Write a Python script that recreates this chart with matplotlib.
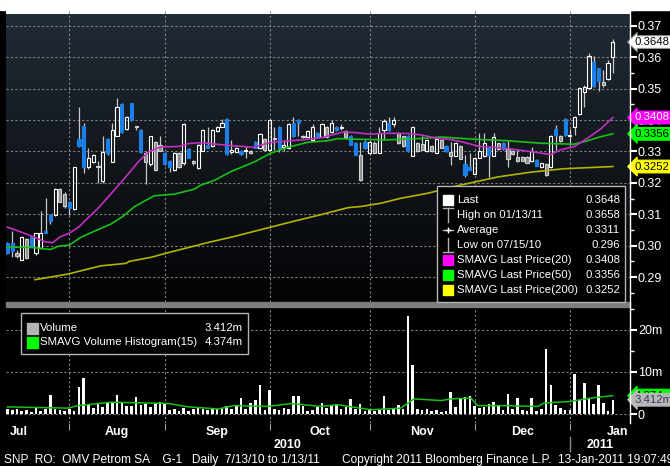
import matplotlib
matplotlib.use("Agg")
import matplotlib.pyplot as plt
import matplotlib.transforms as mtransforms
from matplotlib.patches import Rectangle
from matplotlib.ticker import FormatStrFormatter
import numpy as np

FONT = ['Liberation Sans', 'DejaVu Sans']
plt.rcParams['font.family'] = FONT
FS = 8.6
FS_LEG = 8.2

# daily candles, 7/13/10 .. 1/13/11 (one entry per trading day)
opens = [.3010, .3010, .2966, .2956, .2960, .3027, .2976, .2994, .3048, .3098,
         .3098, .3140, .3128, .3140, .3118, .3340, .3381, .3250, .3265, .3250,
         .3205, .3340, .3268, .3350, .3452, .3370, .3453, .3378, .3369, .3265,
         .3260, .3240, .3302, .3296, .3270, .3240, .3250, .3262, .3308, .3262,
         .3246, .3302, .3322, .3318, .3364, .3379, .3402, .3298, .3297, .3301,
         .3300, .3294, .3330, .3311, .3306, .3306, .3340, .3379, .3315, .3311,
         .3390, .3400, .3346, .3347, .3336, .3359, .3347, .3346, .3362, .3379,
         .3376, .3346, .3349, .3328, .3210, .3331, .3295, .3296, .3296, .3367,
         .3390, .3386, .3328, .3316, .3349, .3287, .3300, .3306, .3300, .3300,
         .3296, .3312, .3318, .3286, .3287, .3277, .3259, .3249, .3229, .3280,
         .3285, .3311, .3287, .3308, .3328, .3275, .3291, .3270, .3271, .3263,
         .3270, .3273, .3250, .3226, .3250, .3372, .3332, .3403, .3350, .3377,
         .3419, .3489, .3502, .3583, .3565, .3510, .3530, .3601]
highs = [.3012, .3046, .2985, .3030, .3025, .3030, .3042, .3111, .3151, .3100,
         .3185, .3185, .3170, .3142, .3252, .3442, .3390, .3312, .3292, .3270,
         .3348, .3342, .3390, .3470, .3455, .3412, .3455, .3382, .3370, .3300,
         .3350, .3332, .3348, .3298, .3272, .3298, .3297, .3390, .3310, .3272,
         .3325, .3370, .3379, .3370, .3381, .3402, .3405, .3337, .3315, .3303,
         .3316, .3303, .3332, .3360, .3342, .3402, .3377, .3381, .3336, .3390,
         .3408, .3402, .3352, .3369, .3388, .3361, .3390, .3381, .3400, .3381,
         .3388, .3367, .3351, .3330, .3330, .3336, .3333, .3333, .3377, .3403,
         .3408, .3410, .3362, .3350, .3351, .3380, .3330, .3349, .3340, .3320,
         .3344, .3338, .3320, .3330, .3330, .3320, .3290, .3295, .3282, .3359,
         .3359, .3313, .3359, .3328, .3330, .3335, .3303, .3304, .3285, .3285,
         .3314, .3275, .3264, .3264, .3352, .3383, .3353, .3405, .3370, .3413,
         .3506, .3512, .3613, .3603, .3567, .3560, .3592, .3658]
lows = [.2975, .2963, .2960, .2955, .2957, .2995, .2972, .2990, .3040, .3068,
        .3095, .3138, .3120, .3098, .3115, .3315, .3233, .3245, .3262, .3199,
        .3200, .3290, .3265, .3348, .3360, .3368, .3398, .3368, .3295, .3197,
        .3255, .3238, .3300, .3258, .3234, .3238, .3248, .3258, .3278, .3258,
        .3244, .3300, .3310, .3315, .3362, .3377, .3290, .3291, .3295, .3290,
        .3280, .3292, .3310, .3309, .3300, .3300, .3306, .3297, .3301, .3309,
        .3347, .3349, .3344, .3345, .3334, .3345, .3345, .3344, .3360, .3365,
        .3367, .3344, .3319, .3288, .3205, .3309, .3293, .3294, .3294, .3336,
        .3365, .3377, .3325, .3314, .3298, .3285, .3298, .3304, .3298, .3298,
        .3294, .3310, .3298, .3256, .3285, .3275, .3218, .3240, .3227, .3278,
        .3283, .3218, .3285, .3306, .3306, .3249, .3289, .3268, .3269, .3262,
        .3268, .3253, .3248, .3221, .3248, .3304, .3330, .3349, .3320, .3351,
        .3417, .3440, .3500, .3505, .3492, .3505, .3528, .3550]
closes = [.2978, .2984, .2978, .3027, .3020, .2999, .3039, .3041, .3041, .3078,
          .3182, .3180, .3165, .3119, .3249, .3317, .3250, .3280, .3290, .3252,
          .3298, .3296, .3368, .3442, .3362, .3408, .3401, .3380, .3297, .3296,
          .3348, .3330, .3320, .3260, .3250, .3296, .3295, .3388, .3280, .3270,
          .3322, .3367, .3312, .3367, .3378, .3389, .3292, .3305, .3311, .3292,
          .3302, .3301, .3311, .3357, .3338, .3400, .3343, .3311, .3320, .3388,
          .3349, .3390, .3348, .3366, .3378, .3347, .3387, .3378, .3390, .3367,
          .3378, .3365, .3321, .3290, .3288, .3311, .3330, .3328, .3358, .3397,
          .3367, .3400, .3358, .3348, .3300, .3378, .3327, .3325, .3337, .3317,
          .3340, .3335, .3300, .3298, .3327, .3316, .3224, .3242, .3280, .3300,
          .3327, .3290, .3346, .3326, .3308, .3307, .3300, .3283, .3282, .3281,
          .3300, .3255, .3262, .3261, .3350, .3351, .3350, .3351, .3352, .3411,
          .3503, .3504, .3605, .3507, .3523, .3522, .3582, .3648]
volumes = [1.3, 1.0, 1.2, 0.6, 1.0, 0.5, 1.4, 0.8, 1.1, 4.6,
           1.2, 1.0, 0.8, 1.3, 0.6, 6.4, 8.6, 2.2, 1.5, 2.4,
           1.6, 2.6, 2.8, 4.6, 2.8, 1.8, 2.0, 4.0, 2.2, 2.4,
           1.6, 2.6, 2.9, 2.4, 0.9, 1.3, 0.6, 1.5, 0.7, 1.2,
           1.4, 1.1, 1.0, 1.2, 1.3, 1.4, 1.8, 1.2, 2.2, 3.8,
           1.2, 2.6, 3.4, 7.0, 1.0, 5.6, 1.2, 1.0, 1.4, 1.3,
           4.4, 4.4, 1.8, 0.8, 1.0, 1.6, 2.6, 1.5, 1.8, 2.5,
           1.2, 1.6, 3.6, 1.2, 2.5, 0.8, 1.0, 0.6, 1.2, 4.2,
           1.0, 1.3, 2.2, 1.2, 23.4, 11.7, 1.2, 0.9, 1.1, 0.7,
           0.9, 0.5, 0.8, 5.2, 1.6, 3.6, 4.0, 4.2, 2.0, 1.5,
           1.6, 2.4, 2.9, 1.8, 1.0, 4.8, 1.3, 3.8, 1.0, 0.8,
           3.8, 0.8, 1.1, 15.5, 7.0, 2.2, 1.4, 0.9, 1.0, 9.6,
           3.4, 7.4, 3.7, 2.5, 6.9, 2.6, 0.8, 3.4]

# moving averages (candle index, value)
ma20_idx = [0, 3, 6, 8, 9.5, 11, 13, 15, 17, 19, 22, 25, 27.5, 29.5, 32, 36, 38, 40.5,
            43, 47.5, 51.5, 55, 59, 62, 66, 70.5, 73, 76, 80, 84, 87, 90, 93, 96, 99,
            102, 105, 110, 114, 116, 119, 121.5, 124.5, 127]
ma20 = [.3059, .3043, .3025, .3012, .3010, .3028, .3040, .3060, .3090, .3119, .3170,
        .3222, .3268, .3297, .3314, .3316, .3325, .3328, .3324, .3318, .3313, .3328,
        .3334, .3337, .3344, .3362, .3360, .3355, .3358, .3357, .3352, .3342, .3338,
        .3328, .3316, .3313, .3309, .3299, .3290, .3305, .3316, .3340, .3372, .3408]
ma50_idx = [0, 5.6, 9, 10.8, 13, 15.4, 18.2, 21.7, 24.2, 26.6, 30.8, 35, 39.2, 40.6,
            43.4, 46.9, 51.7, 55.3, 58.8, 63, 67.2, 69.3, 72.7, 79.8, 86.7, 91, 97.8,
            105, 111.9, 118.8, 121.7, 124.5, 127]
ma50 = [.2996, .2994, .2988, .2999, .3002, .3027, .3046, .3069, .3093, .3124, .3159,
        .3164, .3180, .3193, .3208, .3236, .3266, .3295, .3313, .3329, .3334, .3341,
        .3339, .3337, .3341, .3346, .3339, .3334, .3326, .3323, .3334, .3347, .3356]
ma200_idx = [5.8, 12.7, 19.6, 24.9, 25.5, 30.1, 33.7, 37.9, 42, 46.9, 60.1, 65.8,
             71.4, 74.2, 78.3, 82.5, 88.2, 93, 102.9, 109.8, 116.7, 127]
ma200 = [.2892, .2910, .2936, .2944, .2950, .2963, .2978, .2994, .3010, .3027, .3078,
         .3099, .3121, .3125, .3135, .3151, .3167, .3186, .3219, .3234, .3245, .3252]
vma_idx = [0, 12.7, 14.8, 21.7, 33.7, 37.9, 44.2, 47.5, 54.6, 59.5, 65.8, 69.3, 76.3,
           82.5, 85.3, 91, 93, 97.2, 98.7, 104.1, 111.3, 112.5, 118.2, 122.4, 127]
vma = [1.7, 1.4, 2.0, 2.8, 2.5, 1.7, 1.2, 2.0, 1.8, 2.5, 1.8, 2.2, 1.0, 1.4, 3.6, 3.2,
       3.6, 3.8, 2.0, 2.0, 1.8, 2.6, 3.0, 3.8, 4.374]

month_first = [13, 33, 55, 76, 98, 118]
month_names = ['Jul', 'Aug', 'Sep', 'Oct', 'Nov', 'Dec', 'Jan']
year_names = ['2010', '2011']

legend_rows = [('Last', '0.3648'), ('High on 01/13/11', '0.3658'), ('Average', '0.3311'),
               ('Low on 07/15/10', '0.296'), ('SMAVG Last Price(20)', '0.3408'),
               ('SMAVG Last Price(50)', '0.3356'), ('SMAVG Last Price(200)', '0.3252')]
vol_rows = [('Volume', '3.412m'), ('SMAVG Volume Histogram(15)', '4.374m')]

W, H = 670, 466
XMIN, XMAX = -0.3, 130.5
fig = plt.figure(figsize=(W / 100, H / 100), dpi=100, facecolor='black')


def frac(x0, y0, x1, y1):
    return [x0 / W, 1 - y1 / H, (x1 - x0) / W, (y1 - y0) / H]


ax = fig.add_axes(frac(6, 10, 629.5, 302))
axv = fig.add_axes(frac(6, 306, 629.5, 423), sharex=ax)
axv.set_facecolor('black')

# gradient background of the price panel
t = np.linspace(0, 1, 256)[:, None, None]
top_c = np.array([0.13, 0.17, 0.21])
bot_c = np.array([0.01, 0.01, 0.015])
grad = top_c * (1 - t) + bot_c * t
ax.imshow(grad, extent=(XMIN, XMAX, 0.2821, 0.3736), aspect='auto', zorder=0, origin='upper')

x = np.arange(len(closes))
o = np.array(opens)
c = np.array(closes)
hi = np.array(highs)
lo = np.array(lows)
prev = np.r_[c[0], c[:-1]]
down = c < o
gray = (~down) & (c < prev)
body_lo = np.minimum(o, c)
body_hi = np.maximum(o, c)
ax.vlines(x, lo, body_lo, color='#c8c8c8', lw=0.9, zorder=2)
ax.vlines(x, body_hi, hi, color='#c8c8c8', lw=0.9, zorder=2)
face = ['#1a7fe8' if d else ('#8e8e8e' if g else 'none') for d, g in zip(down, gray)]
edge = ['#1a7fe8' if d else ('#d0d0d0' if g else 'white') for d, g in zip(down, gray)]
ax.bar(x, np.maximum(body_hi - body_lo, 0.0003), bottom=body_lo, width=0.66,
       color=face, edgecolor=edge, linewidth=0.8, zorder=3)

ax.plot(ma200_idx, ma200, color='#b4b400', lw=1.2, zorder=4)
ax.plot(ma50_idx, ma50, color='#18c018', lw=1.2, zorder=4)
ax.plot(ma20_idx, ma20, color='#c030c0', lw=1.2, zorder=4)

axv.bar(x, volumes, width=0.55, color='white', zorder=3)
axv.plot(vma_idx, vma, color='#18c018', lw=1.1, zorder=4)

ax.set_xlim(XMIN, XMAX)
ax.set_ylim(0.2821, 0.3736)
axv.set_ylim(-2.14, 25.71)

for a in (ax, axv):
    for s in a.spines.values():
        s.set_visible(False)
    a.yaxis.tick_right()
    a.tick_params(axis='y', which='major', colors='white', length=5, width=1.5,
                  labelsize=FS + 0.4, pad=1)
    a.tick_params(axis='y', which='minor', colors='white', length=3, width=1)
    a.grid(True, which='major', color='#808080', ls=(0, (2, 2)), lw=0.8, zorder=1)

ax.set_yticks(np.arange(0.29, 0.3701, 0.01))
ax.set_yticks(np.arange(0.285, 0.3751, 0.01), minor=True)
ax.yaxis.set_major_formatter(FormatStrFormatter('%.2f'))
axv.set_yticks([0, 10, 20])
axv.set_yticklabels(['0', '10m', '20m'])
axv.set_yticks([5, 15, 25], minor=True)
axv.set_xticks(month_first)
ax.tick_params(axis='x', length=0, labelbottom=False)
axv.tick_params(axis='x', length=5, color='#9a9a9a', labelbottom=False)


def tag(a, val, text, fc, tc, ec):
    a.annotate(text, xy=(1, val), xycoords=('axes fraction', 'data'), xytext=(3.5, 0),
               textcoords='offset points', ha='left', va='center', fontsize=FS_LEG,
               color=tc, bbox=dict(boxstyle='larrow,pad=0.12', fc=fc, ec=ec, lw=0.8),
               annotation_clip=False, zorder=10)


tag(ax, closes[-1], '0.3648', 'white', 'black', '#909090')
tag(ax, ma20[-1], '0.3408', '#ff00ff', 'white', '#ff00ff')
tag(ax, ma50[-1], '0.3356', '#00ff00', 'black', '#00ff00')
tag(ax, ma200[-1], '0.3252', '#ffff00', 'black', '#ffff00')
tag(axv, vma[-1], '4.374m', '#00ff00', 'black', '#00ff00')
tag(axv, volumes[-1], '3.412m', '#b8b8b8', '#3a3a5a', '#b8b8b8')

# month and year labels under the volume panel
bx = mtransforms.blended_transform_factory(axv.transData, fig.transFigure)
bounds = [XMIN] + month_first + [XMAX]
for i, name in enumerate(month_names):
    if i == 0:
        xpos, ha = XMIN + 0.9, 'left'
    elif i == len(month_names) - 1:
        xpos, ha = XMAX - 0.2, 'right'
    else:
        xpos, ha = (bounds[i] + bounds[i + 1]) / 2, 'center'
    axv.text(xpos, 1 - 432 / H, name, transform=bx, ha=ha, va='center',
             color='white', fontsize=FS + 0.4, fontweight='bold')
axv.text((XMIN + month_first[-1]) / 2, 1 - 445 / H, year_names[0], transform=bx,
         ha='center', va='center', color='white', fontsize=FS + 0.4, fontweight='bold')
axv.text((month_first[-1] + XMAX) / 2, 1 - 445 / H, year_names[1], transform=bx,
         ha='center', va='center', color='white', fontsize=FS + 0.4, fontweight='bold')
axv.plot([month_first[-1]] * 2, [1 - 437 / H, 1 - 451 / H], transform=bx, color='#8a8a8a',
         lw=1, clip_on=False)

# overlay in pixel coordinates for frame pieces and legends
ov = fig.add_axes([0, 0, 1, 1], zorder=5)
ov.set_xlim(0, W)
ov.set_ylim(H, 0)
ov.axis('off')
ov.patch.set_alpha(0)
ov.add_patch(Rectangle((0, 0), W, 10, color='white'))
ov.add_patch(Rectangle((6, 302), 624, 4.5, color='#7c7c7c'))
ov.plot([629.5, 629.5], [10, 423], color='white', lw=1)

# price legend
ov.add_patch(Rectangle((437, 186), 188, 116, fc='black', ec='#b4b4b4', lw=1))
row_y = [200, 215, 230, 245, 260, 275, 290]
for (label, val), yy in zip(legend_rows, row_y):
    ov.text(457, yy, label, color='white', fontsize=FS_LEG, va='center', ha='left')
    ov.text(620, yy, val, color='white', fontsize=FS_LEG, va='center', ha='right')
ov.add_patch(Rectangle((443, 195), 10, 10, color='white'))
ov.plot([443, 453], [208, 208], color='#b0b0b0', lw=1)
ov.plot([448, 448], [208, 222], color='#b0b0b0', lw=1)
ov.plot([443, 453], [230, 230], color='#b0b0b0', lw=1)
ov.plot([448], [230], marker='+', color='white', ms=5, mew=1)
ov.plot([443, 453], [252, 252], color='#b0b0b0', lw=1)
ov.plot([448, 448], [238, 252], color='#b0b0b0', lw=1)
for yy, col in zip(row_y[4:], ['#ff00ff', '#00ff00', '#ffff00']):
    ov.add_patch(Rectangle((443, yy - 5), 10, 10, color=col))

# volume legend
ov.add_patch(Rectangle((21, 313), 227, 41, fc='black', ec='#b4b4b4', lw=1))
for (label, val), yy, col in zip(vol_rows, [328, 342], ['#b4b4b4', '#00ff00']):
    ov.add_patch(Rectangle((27, yy - 5.5), 11, 11, color=col))
    ov.text(40, yy, label, color='white', fontsize=FS_LEG, va='center', ha='left')
    ov.text(243, yy, val, color='white', fontsize=FS_LEG, va='center', ha='right')

# footer
ov.text(4, 460, 'SNP  RO:  OMV Petrom SA    G-1   Daily  7/13/10 to 1/13/11',
        color='white', fontsize=FS, va='center', ha='left')
ov.text(342, 460, 'Copyright 2011 Bloomberg Finance L.P.', color='white', fontsize=FS,
        va='center', ha='left')
ov.text(558, 460, '13-Jan-2011 19:07:49', color='white', fontsize=FS, va='center',
        ha='left')

fig.savefig('out.png', dpi=100, facecolor='black')
